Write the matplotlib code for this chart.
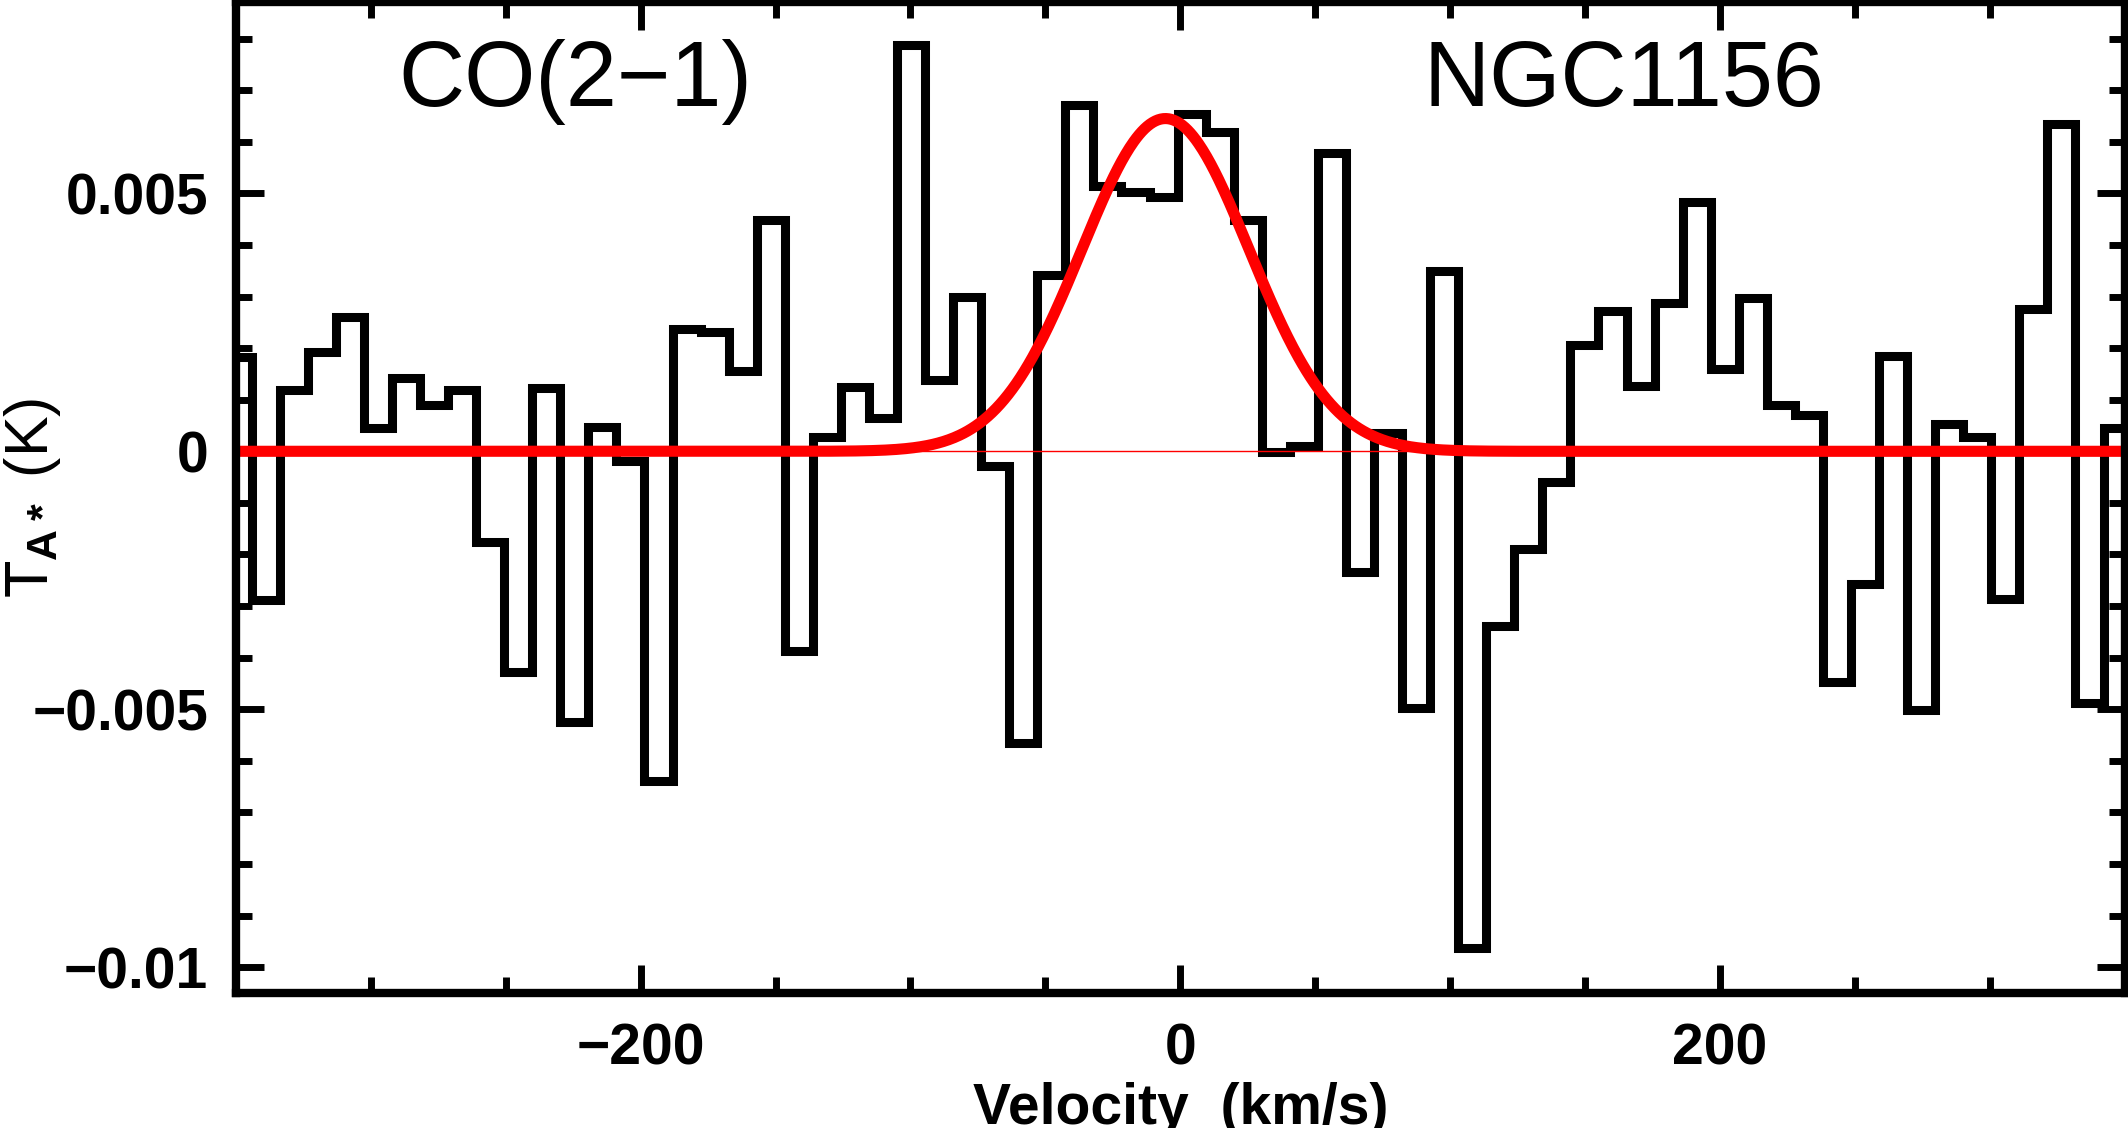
import matplotlib
matplotlib.use('Agg')
import matplotlib.pyplot as plt
from matplotlib.ticker import MultipleLocator
import numpy as np

plt.rcParams['font.family'] = ['Liberation Sans', 'DejaVu Sans']
plt.rcParams['mathtext.fontset'] = 'custom'
plt.rcParams['mathtext.rm'] = 'Liberation Sans'
plt.rcParams['mathtext.bf'] = 'Liberation Sans:bold'

# channel grid (km/s): first channel centre and channel width
v_start = -349.4
dv = 10.4

# antenna temperature per channel (K)
tmb = [0.00182, -0.00289, 0.00118, 0.00192, 0.00261, 0.00046, 0.00143, 0.00089,
       0.00118, -0.00175, -0.00428, 0.00123, -0.00525, 0.00048, -0.00019, -0.00639,
       0.00238, 0.00232, 0.00155, 0.00449, -0.00388, 0.00027, 0.00124, 0.00065,
       0.00788, 0.00139, 0.00300, -0.00029, -0.00565, 0.00341, 0.00672, 0.00515,
       0.00503, 0.00493, 0.00654, 0.00619, 0.00449, -0.00001, 0.00011, 0.00579,
       -0.00233, 0.00036, -0.00498, 0.00350, -0.00962, -0.00339, -0.00190, -0.00060,
       0.00207, 0.00272, 0.00127, 0.00288, 0.00483, 0.00160, 0.00297, 0.00089,
       0.00071, -0.00448, -0.00258, 0.00185, -0.00502, 0.00052, 0.00027, -0.00287,
       0.00275, 0.00635, -0.00488, 0.00046]

# gaussian fit: amplitude (K), centre (km/s), sigma (km/s)
fit_amp = 0.00645
fit_v0 = -5.5
fit_sigma = 31.0

line_name = 'CO(2\u22121)'
source_name = 'NGC1156'

vel = v_start + dv*np.arange(len(tmb))
edges = np.append(vel - dv/2, vel[-1] + dv/2)
vfit = np.linspace(-350, 350, 1400)
tfit = fit_amp*np.exp(-(vfit - fit_v0)**2/(2*fit_sigma**2))

fig = plt.figure(figsize=(21.28, 11.28), dpi=100, facecolor='white')
ax = fig.add_axes([0.1109, 0.1197, 0.8875, 0.8781])

ax.stairs(tmb, edges, color='black', linewidth=6.5, baseline=None,
          joinstyle='miter')
ax.axhline(0, color='red', linewidth=1.0)
ax.plot(vfit, tfit, color='red', linewidth=8, solid_capstyle='butt')

ax.set_xlim(-350, 350)
ax.set_ylim(-0.0105, 0.0087)

ax.xaxis.set_major_locator(MultipleLocator(200))
ax.xaxis.set_minor_locator(MultipleLocator(50))
ax.yaxis.set_major_locator(MultipleLocator(0.005))
ax.yaxis.set_minor_locator(MultipleLocator(0.001))
ax.set_yticks([0.005, 0, -0.005, -0.01])
ax.set_yticklabels(['0.005', '0', '\u22120.005', '\u22120.01'])
ax.set_xticks([-200, 0, 200])
ax.set_xticklabels(['\u2212200', '0', '200'])

ax.tick_params(which='both', direction='in', top=True, right=True,
               width=5, labelsize=41, pad=20)
ax.tick_params(axis='x', which='both', pad=21)
ax.tick_params(which='major', length=20)
ax.tick_params(which='minor', length=11.5)
for lab in ax.get_xticklabels() + ax.get_yticklabels():
    lab.set_fontweight('bold')
for sp in ax.spines.values():
    sp.set_linewidth(6)

ax.set_xlabel('Velocity  (km/s)', fontsize=41, fontweight='bold', labelpad=4)
ax.set_ylabel(r'T$_{\mathbf{A*}}$ (K)', fontsize=44)
ax.yaxis.set_label_coords(-0.0916, 0.5)

ax.text(0.0858, 0.895, line_name, transform=ax.transAxes, fontsize=66,
        ha='left', va='baseline')
ax.text(0.629, 0.895, source_name, transform=ax.transAxes, fontsize=66,
        ha='left', va='baseline')

fig.savefig('out.png', dpi=100, facecolor='white')
